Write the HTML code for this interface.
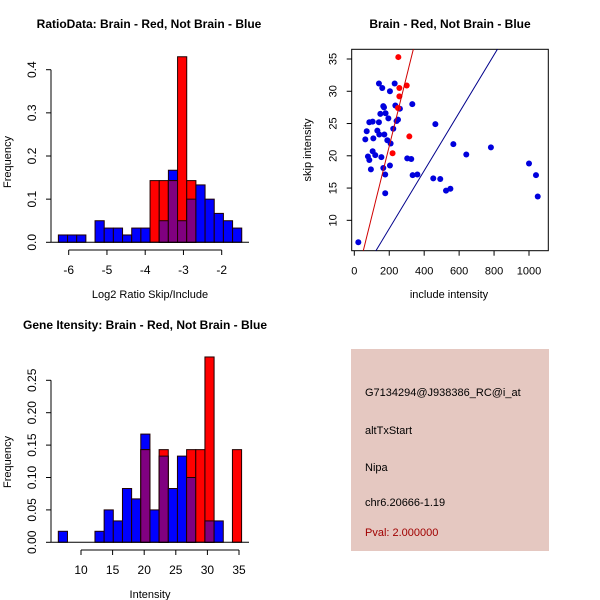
<!DOCTYPE html>
<html><head><meta charset="utf-8"><style>
body{margin:0;background:#fff;}
svg{display:block;font-family:"Liberation Sans",sans-serif;}
</style></head><body>
<svg id="c" width="600" height="600" viewBox="0 0 600 600">
<rect x="0" y="0" width="600" height="600" fill="#fff"/>
<text x="149" y="28" font-size="12" font-weight="bold" text-anchor="middle">RatioData: Brain - Red, Not Brain - Blue</text>
<text x="450" y="28" font-size="12" font-weight="bold" text-anchor="middle">Brain - Red, Not Brain - Blue</text>
<text x="145" y="329" font-size="12" font-weight="bold" text-anchor="middle">Gene Itensity: Brain - Red, Not Brain - Blue</text>
<g id="p1"></g>
<g id="p2"></g>
<g id="p3"></g>
<g>
<rect x="351" y="349" width="198" height="202" fill="#e5c8c1"/>
<text x="365" y="396" font-size="11">G7134294@J938386_RC@i_at</text>
<text x="365" y="434" font-size="11">altTxStart</text>
<text x="365" y="471" font-size="11">Nipa</text>
<text x="365" y="506" font-size="11">chr6.20666-1.19</text>
<text x="365" y="536" font-size="11" fill="#a00000">Pval: 2.000000</text>
</g>
</svg>
<script>
// Ratio histogram data
const ratioStart = -6.27, ratioWidth = 0.2397;
const ratioBlue = [0.017,0.017,0.017,0,0.05,0.033,0.033,0.017,0.033,0.033,0,0.05,0.167,0.05,0.1,0.133,0.1,0.067,0.05,0.033];
const ratioRed  = [0,0,0,0,0,0,0,0,0,0,0.143,0.143,0.143,0.43,0.143,0,0,0,0,0];
const ratioXTicks = [-6,-5,-4,-3,-2];
const ratioYTicks = [0,0.1,0.2,0.3,0.4];
// Intensity histogram data
const intStart = 6.41, intWidth = 1.45;
const intBlue = [0.017,0,0,0,0.017,0.05,0.033,0.083,0.067,0.167,0.05,0.133,0.083,0.133,0.1,0,0.033,0.033,0,0];
const intRed  = [0,0,0,0,0,0,0,0,0,0.143,0,0.143,0,0,0.143,0.143,0.286,0,0,0.143];
const intXTicks = [10,15,20,25,30,35];
const intYTicks = [0,0.05,0.10,0.15,0.20,0.25];
const intYLabels = ["0.00","0.05","0.10","0.15","0.20","0.25"];
// Scatter data
const blueX = [23,63,71,78,86,86,95,105,109,105,120,132,141,141,143,149,155,160,166,170,172,166,177,177,179,189,195,204,204,208,223,235,242,250,261,231,303,326,332,334,361,452,464,492,525,550,567,641,782,1000,1040,1050];
const blueY = [6.6,22.55,23.8,19.9,25.2,19.35,17.9,25.3,22.7,20.7,20.1,23.9,31.2,25.2,23.3,26.5,19.8,30.5,27.7,27.5,23.3,18.1,17.1,14.2,26.6,22.4,25.8,30.0,18.5,21.9,24.2,27.8,25.4,25.6,27.3,31.2,19.6,19.5,28.0,17.0,17.1,16.5,24.9,16.4,14.6,14.9,21.8,20.2,21.3,18.8,17.0,13.7];
const redX = [252,258,258,300,315,219,250];
const redY = [35.3,30.5,29.2,30.9,23.0,20.4,27.4];
const redLine = [-0.31, 0.109];
const blueLine = [-0.27, 0.0449];
const scXTicks = [0,200,400,600,800,1000];
const scYTicks = [10,15,20,25,30,35];

const NS = "http://www.w3.org/2000/svg";
function mk(parent, tag, attrs, text){
  const e = document.createElementNS(NS, tag);
  for (const k in attrs) e.setAttribute(k, attrs[k]);
  if (text !== undefined) e.textContent = text;
  parent.appendChild(e); return e;
}
function fmt(v){return String(v);}

function hist(g, o){
  const sx = v => o.x0px + (v - o.x0) * o.pxPerX;
  const sy = v => o.y0px - v * o.pxPerY;
  const n = o.blue.length;
  for (let i=0;i<n;i++){
    const a = sx(o.start + i*o.width), b = sx(o.start + (i+1)*o.width);
    const bl = o.blue[i], rd = o.red[i], mn = Math.min(bl, rd);
    if (bl>0){ const r = mk(g,'rect',{x:a,y:sy(bl),width:b-a,height:sy(0)-sy(bl),fill:'#0000ff',stroke:'#200000','stroke-width':1});
        }
    if (rd>0){ const r = mk(g,'rect',{x:a,y:sy(rd),width:b-a,height:sy(0)-sy(rd),fill:'#ff0000',stroke:'#200000','stroke-width':1});
        }
    if (mn>0){ const r = mk(g,'rect',{x:a,y:sy(mn),width:b-a,height:sy(0)-sy(mn),fill:'#800080',stroke:'#200000','stroke-width':1});
        }
  }
  const base = mk(g,'line',{x1:o.baseL,x2:o.baseR,y1:sy(0),y2:sy(0),stroke:'#000'});
   
  const xa = mk(g,'g',{});
   
  const xt0 = sx(o.xticks[0]), xt1 = sx(o.xticks[o.xticks.length-1]);
  mk(xa,'line',{x1:xt0,x2:xt1,y1:o.xAxisY,y2:o.xAxisY,stroke:'#000'});
  o.xticks.forEach(t=>{
    mk(xa,'line',{x1:sx(t),x2:sx(t),y1:o.xAxisY,y2:o.xAxisY+5,stroke:'#000'});
    const tx = mk(xa,'text',{x:sx(t),y:o.xAxisY+24,'font-size':12,'text-anchor':'middle'},fmt(t));
     
  });
  const xl = mk(g,'text',{x:o.xLabelX,y:o.xLabelY,'font-size':11,'text-anchor':'middle'},o.xlabel);
   
  const ya = mk(g,'g',{});
   
  const ax = o.yAxisX;
  mk(ya,'line',{x1:ax,x2:ax,y1:sy(o.yticks[0]),y2:sy(o.yticks[o.yticks.length-1]),stroke:'#000'});
  o.yticks.forEach((t,i)=>{
    mk(ya,'line',{x1:ax-5,x2:ax,y1:sy(t),y2:sy(t),stroke:'#000'});
    const tx = mk(ya,'text',{x:ax-15,y:sy(t),'font-size':12,'text-anchor':'middle',transform:`rotate(-90 ${ax-15} ${sy(t)})`},o.ylabels[i]);
     
  });
  const yl = mk(g,'text',{x:11,y:o.yLabelY,'font-size':11,'text-anchor':'middle',transform:`rotate(-90 11 ${o.yLabelY})`},'Frequency');
   
}

hist(document.getElementById('p1'),{
  start:ratioStart,width:ratioWidth,blue:ratioBlue,red:ratioRed,
  x0:-6,x0px:68.7,pxPerX:38.25,y0px:242.3,pxPerY:431.5,
  baseL:51,baseR:249,xticks:ratioXTicks,xAxisY:250,xlabel:'Log2 Ratio Skip/Include',xLabelX:150,xLabelY:298,
  yAxisX:51,yticks:ratioYTicks,ylabels:ratioYTicks.map(v=>String(v===0?'0.0':v)),yLabelY:162
});
hist(document.getElementById('p3'),{
  start:intStart,width:intWidth,blue:intBlue,red:intRed,
  x0:10,x0px:81,pxPerX:6.32,y0px:542.3,pxPerY:648,
  baseL:51,baseR:249,xticks:intXTicks,xAxisY:550,xlabel:'Intensity',xLabelX:150,xLabelY:598,
  yAxisX:51,yticks:intYTicks,ylabels:intYLabels,yLabelY:462
});

(function(){
  const g = document.getElementById('p2');
  const L=351.7,R=548.3,T=49.3,B=250.7;
  const sx = v => 354.3 + v*0.1747;
  const sy = v => 59 + (35 - v)*6.453;
  const clip = mk(g,'clipPath',{id:'scClip'});
  mk(clip,'rect',{x:L,y:T,width:R-L,height:B-T});
  const frame = mk(g,'rect',{x:L,y:T,width:R-L,height:B-T,fill:'none',stroke:'#000'});
   
  const pts = mk(g,'g',{'clip-path':'url(#scClip)'});
  blueX.forEach((x,i)=>{
    const c = mk(pts,'circle',{cx:sx(x),cy:sy(blueY[i]),r:3,fill:'#0000dd'});
     
  });
  redX.forEach((x,i)=>{
    const c = mk(pts,'circle',{cx:sx(x),cy:sy(redY[i]),r:3,fill:'#ff0000'});
     
  });
  const xa=-100, xb=1200;
  const rl = mk(pts,'line',{x1:sx(xa),y1:sy(redLine[0]+redLine[1]*xa),x2:sx(xb),y2:sy(redLine[0]+redLine[1]*xb),stroke:'#d00000','stroke-width':1});
   
  const bl = mk(pts,'line',{x1:sx(xa),y1:sy(blueLine[0]+blueLine[1]*xa),x2:sx(xb),y2:sy(blueLine[0]+blueLine[1]*xb),stroke:'#00008b','stroke-width':1});
   
  const xax = mk(g,'g',{});
   
  scXTicks.forEach(t=>{
    mk(xax,'line',{x1:sx(t),x2:sx(t),y1:B,y2:B+5,stroke:'#000'});
    const tx = mk(xax,'text',{x:sx(t),y:B+24,'font-size':11,'text-anchor':'middle'},String(t));
     
  });
  const yax = mk(g,'g',{});
   
  scYTicks.forEach(t=>{
    mk(yax,'line',{x1:L-5,x2:L,y1:sy(t),y2:sy(t),stroke:'#000'});
    const tx = mk(yax,'text',{x:L-15,y:sy(t),'font-size':11,'text-anchor':'middle',transform:`rotate(-90 ${L-15} ${sy(t)})`},String(t));
     
  });
  const xl = mk(g,'text',{x:449,y:298,'font-size':11,'text-anchor':'middle'},'include intensity');
   
  const yl = mk(g,'text',{x:311,y:150,'font-size':11,'text-anchor':'middle',transform:'rotate(-90 311 150)'},'skip intensity');
   
})();
</script>
</body></html>
